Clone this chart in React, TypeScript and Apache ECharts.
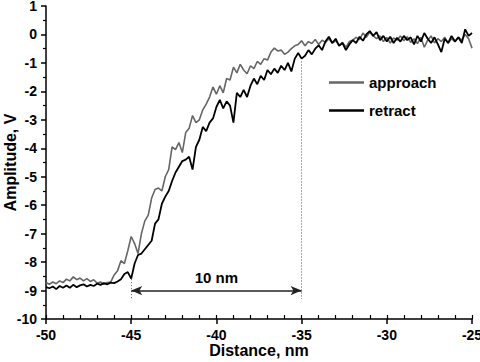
import React, { useEffect, useRef } from "react";
import * as echarts from "echarts";

const distance = [
  -50.0, -49.8, -49.6, -49.4, -49.2, -49.0, -48.8, -48.6, -48.4, -48.2,
  -48.0, -47.8, -47.6, -47.4, -47.2, -47.0, -46.8, -46.6, -46.4, -46.2,
  -46.0, -45.8, -45.6, -45.4, -45.2, -45.0, -44.8, -44.6, -44.4, -44.2,
  -44.0, -43.8, -43.6, -43.4, -43.2, -43.0, -42.8, -42.6, -42.4, -42.2,
  -42.0, -41.8, -41.6, -41.4, -41.2, -41.0, -40.8, -40.6, -40.4, -40.2,
  -40.0, -39.8, -39.6, -39.4, -39.2, -39.0, -38.8, -38.6, -38.4, -38.2,
  -38.0, -37.8, -37.6, -37.4, -37.2, -37.0, -36.8, -36.6, -36.4, -36.2,
  -36.0, -35.8, -35.6, -35.4, -35.2, -35.0, -34.8, -34.6, -34.4, -34.2,
  -34.0, -33.8, -33.6, -33.4, -33.2, -33.0, -32.8, -32.6, -32.4, -32.2,
  -32.0, -31.8, -31.6, -31.4, -31.2, -31.0, -30.8, -30.6, -30.4, -30.2,
  -30.0, -29.8, -29.6, -29.4, -29.2, -29.0, -28.8, -28.6, -28.4, -28.2,
  -28.0, -27.8, -27.6, -27.4, -27.2, -27.0, -26.8, -26.6, -26.4, -26.2,
  -26.0, -25.8, -25.6, -25.4, -25.2, -25.0,
];

const approach = [
  -8.72, -8.78, -8.70, -8.76, -8.66, -8.72, -8.60, -8.66, -8.52, -8.62,
  -8.56, -8.66, -8.58, -8.68, -8.62, -8.74, -8.70, -8.78, -8.72, -8.70,
  -8.45, -8.30, -7.95, -8.05, -7.60, -7.10, -7.35, -7.70, -7.00, -6.55,
  -6.35, -5.75, -5.45, -5.40, -5.50, -5.00, -4.75, -3.95, -4.05, -3.80,
  -4.15, -3.45, -3.30, -2.85, -3.10, -3.00, -2.65, -2.45, -2.20, -1.85,
  -2.10, -1.80, -2.05, -1.55, -1.60, -1.15, -1.35, -1.05, -1.25, -1.38,
  -1.10, -1.20, -0.95, -1.05, -0.85, -0.90, -0.62, -0.48, -0.58, -0.55,
  -0.70, -0.62, -0.50, -0.40, -0.35, -0.22, -0.40, -0.25, -0.32, -0.18,
  -0.35, -0.20, -0.28, -0.15, -0.30, -0.22, -0.38, -0.28, -0.45, -0.25,
  -0.20, -0.10, -0.18, 0.05, -0.10, 0.08, -0.05, -0.15, -0.05, -0.25,
  -0.10, -0.30, -0.12, -0.20, -0.05, -0.22, -0.08, -0.28, -0.15, -0.32,
  -0.10, -0.45, -0.20, -0.05, -0.30, -0.15, -0.25, -0.10, -0.30, -0.15,
  -0.25, -0.10, -0.20, 0.00, -0.15, -0.48,
];

const retract = [
  -8.88, -8.92, -8.86, -8.95, -8.84, -8.90, -8.82, -8.90, -8.80, -8.88,
  -8.82, -8.78, -8.86, -8.80, -8.84, -8.76, -8.80, -8.74, -8.78, -8.72,
  -8.74, -8.68, -8.60, -8.42, -8.35, -8.58, -8.05, -7.75, -7.70, -7.55,
  -7.40, -7.25, -6.65, -6.50, -5.95, -5.70, -5.50, -5.15, -4.85, -4.65,
  -4.45, -4.40, -4.30, -4.75, -3.95, -3.70, -3.25, -3.40, -3.10, -2.95,
  -2.55, -2.30, -2.60, -2.35, -2.50, -3.10, -2.05, -2.20, -1.95, -2.20,
  -1.80, -1.55, -1.75, -1.45, -1.60, -1.25, -1.40, -1.20, -1.35, -1.10,
  -1.25, -1.00, -1.30, -0.85, -0.65, -0.85, -0.75, -0.55, -0.70, -0.50,
  -0.38, -0.55, -0.25, -0.08, -0.30, -0.15, -0.40, -0.30, -0.55, -0.35,
  -0.20, -0.30, -0.08, -0.22, 0.00, 0.12, -0.05, 0.08, -0.20, -0.05,
  -0.25, -0.08, -0.30, -0.12, -0.25, -0.05, -0.20, -0.10, -0.35, -0.05,
  -0.25, 0.05, -0.15, -0.30, -0.10, -0.35, -0.62, -0.15, -0.30, -0.05,
  -0.25, -0.10, -0.30, 0.18, -0.05, 0.05,
];

const seriesNames = ["approach", "retract"];
const annotationLabel = "10 nm";
const spanStart = -45;
const spanEnd = -35;

const FONT = 'Arial, "Liberation Sans", sans-serif';

export default function App() {
  const ref = useRef<HTMLDivElement>(null);
  useEffect(() => {
    document.body.style.margin = "0";
    if (!ref.current) return;
    const chart = echarts.init(ref.current, undefined, { renderer: "svg" });
    const pairs = (ys: number[]) => distance.map((x, i) => [x, ys[i]]);
    const labelStyle = { color: "#000", fontWeight: "bold" as const, fontSize: 14, fontFamily: FONT };
    chart.setOption({
      animation: false,
      backgroundColor: "#fff",
      grid: { left: 46, right: 8, top: 6, bottom: 43, containLabel: false, outerBoundsMode: "none" },
      legend: {
        orient: "vertical",
        left: 329,
        top: 75,
        padding: 0,
        itemWidth: 35,
        itemHeight: 2.5,
        itemGap: 13,
        icon: "rect",
        textStyle: { color: "#000", fontWeight: "bold", fontSize: 15, fontFamily: FONT },
        data: seriesNames,
      },
      xAxis: [
        {
          type: "value",
          min: -50,
          max: -25,
          interval: 5,
          position: "bottom",
          name: "Distance, nm",
          nameLocation: "middle",
          nameGap: 23,
          nameMoveOverlap: false,
          nameTextStyle: { color: "#000", fontWeight: "bold", fontSize: 16, fontFamily: FONT },
          axisLine: { show: true, onZero: false, lineStyle: { color: "#000", width: 1.5 } },
          axisTick: { show: true, inside: false, length: 5, lineStyle: { color: "#000", width: 1.5 } },
          axisLabel: { ...labelStyle, margin: 9 },
          splitLine: { show: false },
        },
        {
          type: "value",
          min: -50,
          max: -25,
          interval: 1,
          position: "bottom",
          offset: 0,
          axisLine: { show: false, onZero: false },
          axisTick: { show: true, inside: true, length: 4, lineStyle: { color: "#000", width: 1.2 } },
          axisLabel: { show: false },
          splitLine: { show: false },
        },
      ],
      yAxis: {
        type: "value",
        min: -10,
        max: 1,
        interval: 1,
        name: "Amplitude, V",
        nameLocation: "middle",
        nameGap: 28,
        nameMoveOverlap: false,
        nameTextStyle: { color: "#000", fontWeight: "bold", fontSize: 16, fontFamily: FONT },
        axisLine: { show: true, onZero: false, lineStyle: { color: "#000", width: 1.5 } },
        axisTick: { show: true, inside: false, length: 5, lineStyle: { color: "#000", width: 1.5 } },
        minorTick: { show: true, splitNumber: 2, length: 3, lineStyle: { color: "#000", width: 1.2 } },
        axisLabel: { ...labelStyle, margin: 9 },
        splitLine: { show: false },
        minorSplitLine: { show: false },
      },
      series: [
        {
          name: seriesNames[0],
          type: "line",
          data: pairs(approach),
          showSymbol: false,
          symbol: "none",
          color: "#666666",
          lineStyle: { color: "#666666", width: 1.6 },
          z: 2,
        },
        {
          name: seriesNames[1],
          type: "line",
          data: pairs(retract),
          showSymbol: false,
          symbol: "none",
          color: "#000000",
          lineStyle: { color: "#000000", width: 1.8 },
          z: 3,
          markLine: {
            silent: true,
            symbol: ["none", "none"],
            animation: false,
            data: [
              [
                { coord: [spanEnd, -0.95], lineStyle: { type: [1, 2], color: "#555", width: 1 }, label: { show: false } },
                { coord: [spanEnd, -9.3] },
              ],
              [
                { coord: [spanStart, -8.6], lineStyle: { type: [1, 2], color: "#555", width: 1 }, label: { show: false } },
                { coord: [spanStart, -9.3] },
              ],
              [
                {
                  coord: [spanStart, -9.0],
                  symbol: "arrow",
                  symbolSize: [7, 11],
                  lineStyle: { type: "solid", color: "#222", width: 1.5 },
                  label: {
                    show: true,
                    position: "middle",
                    formatter: annotationLabel,
                    color: "#000",
                    fontWeight: "bold",
                    fontSize: 15,
                    fontFamily: FONT,
                    distance: 6,
                  },
                },
                { coord: [spanEnd, -9.0], symbol: "arrow", symbolSize: [7, 11] },
              ],
            ],
          },
        },
      ],
    });
    return () => chart.dispose();
  }, []);
  return <div ref={ref} style={{ position: "absolute", left: 0, top: 0, width: 480, height: 362 }} />;
}
